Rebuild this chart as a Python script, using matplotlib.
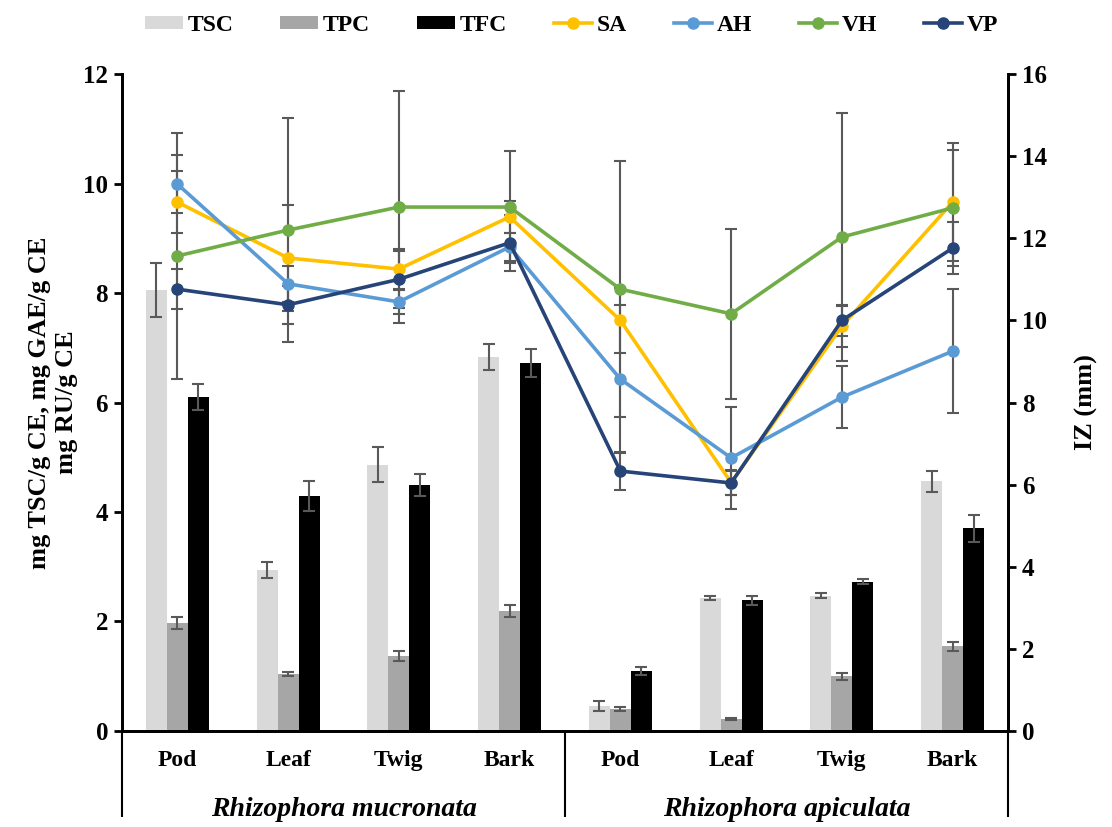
import numpy as np
import matplotlib
matplotlib.use('Agg')
import matplotlib.pyplot as plt
import matplotlib.transforms as mtransforms

plt.rcParams['font.family'] = ['Liberation Serif', 'DejaVu Serif']
plt.rcParams['font.weight'] = 'bold'
plt.rcParams['axes.labelweight'] = 'bold'

# categories
parts = ['Pod', 'Leaf', 'Twig', 'Bark', 'Pod', 'Leaf', 'Twig', 'Bark']
species = ['Rhizophora mucronata', 'Rhizophora apiculata']

# bar series (left axis)
tsc = [8.05, 2.94, 4.86, 6.83, 0.46, 2.43, 2.47, 4.56]
tsc_err = [0.49, 0.15, 0.32, 0.24, 0.09, 0.04, 0.05, 0.19]
tpc = [1.97, 1.04, 1.37, 2.19, 0.40, 0.22, 1.00, 1.55]
tpc_err = [0.11, 0.04, 0.10, 0.11, 0.03, 0.02, 0.06, 0.08]
tfc = [6.10, 4.29, 4.49, 6.72, 1.10, 2.39, 2.73, 3.70]
tfc_err = [0.23, 0.27, 0.20, 0.26, 0.07, 0.08, 0.05, 0.24]

# line series (right axis, IZ mm)
sa = [12.88, 11.52, 11.25, 12.52, 10.00, 6.05, 9.86, 12.88]
sa_err = [0.75, 1.29, 0.49, 0.39, 0.80, 0.30, 0.50, 1.44]
ah = [13.32, 10.89, 10.45, 11.79, 8.57, 6.65, 8.13, 9.25]
ah_err = [0.71, 0.44, 0.29, 0.34, 1.80, 1.24, 0.75, 1.51]
vh = [11.57, 12.20, 12.76, 12.76, 10.76, 10.16, 12.03, 12.74]
vh_err = [3.00, 2.73, 2.83, 1.36, 3.12, 2.07, 3.02, 1.41]
vp = [10.76, 10.38, 11.00, 11.89, 6.33, 6.04, 10.00, 11.76]
vp_err = [0.49, 0.46, 0.70, 0.68, 0.46, 0.30, 0.37, 0.63]

x = np.arange(len(parts))
w = 0.19
err_col = '#595959'

fig = plt.figure(figsize=(11.12, 8.27), dpi=100)
ax = fig.add_axes([0.1097, 0.1161, 0.7968, 0.7944])
ax2 = ax.twinx()

ekw = dict(ecolor=err_col, elinewidth=1.5, capsize=4, capthick=1.5)
b1 = ax.bar(x - w, tsc, w, color='#D9D9D9', yerr=tsc_err, error_kw=ekw, label='TSC')
b2 = ax.bar(x, tpc, w, color='#A6A6A6', yerr=tpc_err, error_kw=ekw, label='TPC')
b3 = ax.bar(x + w, tfc, w, color='black', yerr=tfc_err, error_kw=ekw, label='TFC')

series = [('SA', sa, sa_err, '#FFC000'), ('AH', ah, ah_err, '#5B9BD5'),
          ('VH', vh, vh_err, '#70AD47'), ('VP', vp, vp_err, '#264478')]
handles = [b1, b2, b3]
for name, vals, errs, col in series:
    ax2.errorbar(x, vals, yerr=errs, fmt='none', ecolor=err_col, elinewidth=1.5,
                 capsize=4.5, capthick=1.5, zorder=2)
for name, vals, errs, col in series:
    ln, = ax2.plot(x, vals, color=col, lw=2.6, marker='o', ms=8, label=name, zorder=3)
    handles.append(ln)

ax.set_xlim(-0.5, 7.5)
ax.set_ylim(0, 12)
ax2.set_ylim(0, 16)
ax.set_yticks(np.arange(0, 13, 2))
ax2.set_yticks(np.arange(0, 17, 2))

for a in (ax, ax2):
    a.spines['top'].set_visible(False)
    for s in ('left', 'right', 'bottom'):
        a.spines[s].set_linewidth(2)
    a.tick_params(axis='y', direction='out', length=6, width=2, labelsize=18, pad=4)

ax.set_xticks(x)
ax.set_xticklabels(parts, fontsize=17)
ax.tick_params(axis='x', length=0, pad=14)
ax.set_xticks([-0.5, 3.5, 7.5], minor=True)
ax.tick_params(axis='x', which='minor', length=62, width=1.5, direction='out')

trans = mtransforms.blended_transform_factory(ax.transData, ax.transAxes)
for i, sp in enumerate(species):
    ax.text(1.5 + 4 * i, -0.12, sp, transform=trans, ha='center', va='center',
            fontsize=20, style='italic', fontweight='bold')

ax.set_ylabel('mg TSC/g CE, mg GAE/g CE\nmg RU/g CE', fontsize=19, fontweight='bold',
              linespacing=1.2, labelpad=4)
ax2.set_ylabel('IZ (mm)', fontsize=19, fontweight='bold', labelpad=20)

fig.legend(handles=handles, loc='upper center', bbox_to_anchor=(0.514, 1.008), ncol=7,
           frameon=False, fontsize=17, handlelength=1.6, handleheight=0.5,
           handletextpad=0.2, columnspacing=2.0)

fig.savefig('out.png', dpi=100)
